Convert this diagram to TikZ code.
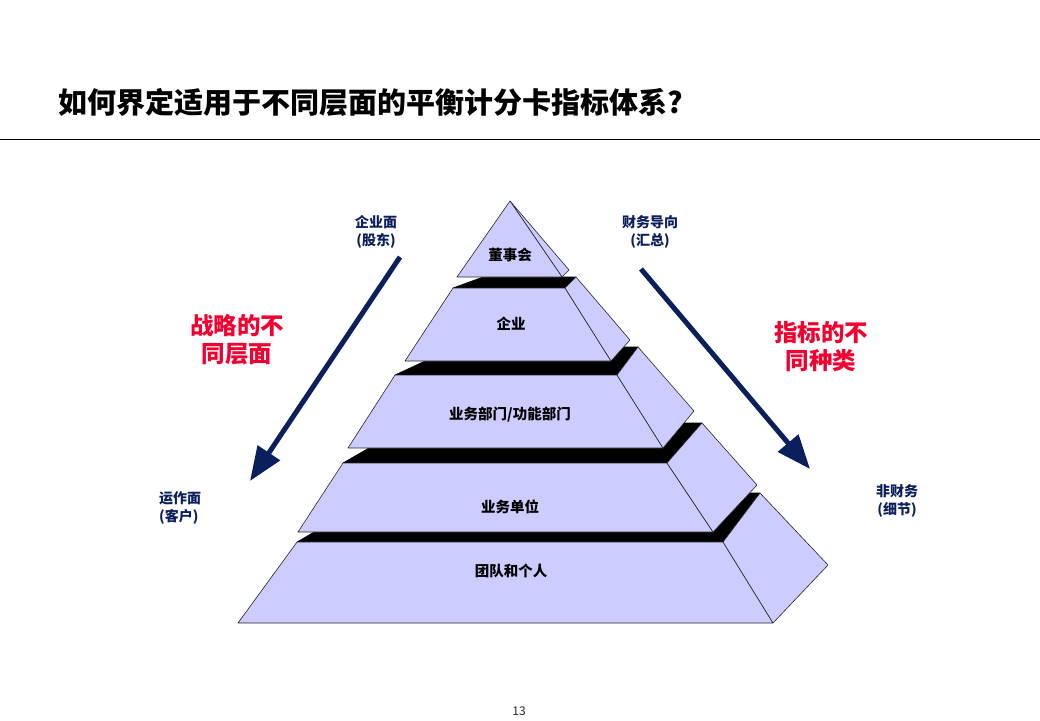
\documentclass[tikz,border=0pt]{standalone}
\usepackage{fontspec}
\setmainfont{Noto Sans CJK SC}
\usetikzlibrary{arrows.meta}
\definecolor{face}{HTML}{CCCCFF}
\definecolor{navy}{HTML}{0B1F5C}
\definecolor{redt}{HTML}{F20030}
\tikzset{
 faceS/.style={fill=face, draw=black!85, line width=0.6pt, line join=round},
 topS/.style={fill=black, draw=black, line width=0.6pt, line join=round},
 tierlabel/.style={font=\fontsize{14.5}{16}\selectfont\bfseries, text=black, inner sep=0pt},
 navylabel/.style={font=\fontsize{14}{18}\selectfont\bfseries, text=navy, align=center, inner sep=0pt},
 redlabel/.style={font=\fontsize{23.5}{28}\selectfont\bfseries, text=redt, align=center, inner sep=0pt},
 bigarrow/.style={draw=navy, line width=5pt, -{Triangle[length=34pt,width=26pt]}}
}
\begin{document}
\begin{tikzpicture}[x=1pt,y=-1pt]
\fill[white] (0,0) rectangle (1040,720);
\useasboundingbox (0,0) rectangle (1040,720);
% title
\node[anchor=base west, inner sep=0pt, font=\fontsize{29}{32}\selectfont\bfseries] (title) at (58,113) {如何界定适用于不同层面的平衡计分卡指标体系?};
\draw[line width=1pt] (0,139) -- (1040,139);
% tier 5
\fill[topS] (297,542) -- (381,493) -- (760,493) -- (723,542) -- cycle;
\filldraw[faceS] (297,542) -- (723,542) -- (773,623) -- (238,623) -- cycle;
\filldraw[faceS] (723,542) -- (760,493) -- (828,565) -- (773,623) -- cycle;
% tier 4
\fill[topS] (343,463) -- (412,423) -- (702,423) -- (667,463) -- cycle;
\filldraw[faceS] (343,463) -- (667,463) -- (713,532) -- (298,532) -- cycle;
\filldraw[faceS] (667,463) -- (702,423) -- (757,485) -- (713,532) -- cycle;
% tier 3
\fill[topS] (395,375) -- (455,347) -- (638,347) -- (617,375) -- cycle;
\filldraw[faceS] (395,375) -- (617,375) -- (663,448) -- (348,448) -- cycle;
\filldraw[faceS] (617,375) -- (638,347) -- (694,411) -- (663,448) -- cycle;
% tier 2
\fill[topS] (453,288) -- (483,277) -- (576,277) -- (565,288) -- cycle;
\filldraw[faceS] (453,288) -- (565,288) -- (611,361) -- (405,361) -- cycle;
\filldraw[faceS] (565,288) -- (576,277) -- (630,340) -- (611,361) -- cycle;
% tier 1
\filldraw[faceS] (510,201) -- (569,270) -- (562,277) -- cycle;
\filldraw[faceS] (510,201) -- (562,277) -- (457,277) -- cycle;
% tier labels
\node[tierlabel] (t1) at (510,255) {董事会};
\node[tierlabel] (t2) at (511,324) {企业};
\node[tierlabel] (t3) at (510,415) {业务部门/功能部门};
\node[tierlabel] (t4) at (510,507) {业务单位};
\node[tierlabel] (t5) at (511,571) {团队和个人};
% side labels
\node[navylabel] (qym) at (376,232) {企业面\\(股东)};
\node[navylabel] (cwdx) at (650,232) {财务导向\\(汇总)};
\node[navylabel, align=left, anchor=west] (yzm) at (159,508) {运作面\\(客户)};
\node[navylabel] (fcw) at (897,501) {非财务\\(细节)};
\node[redlabel] (zl) at (237,340) {战略的不\\同层面};
\node[redlabel] (zb) at (821,347) {指标的不\\同种类};
% arrows
\coordinate (ls) at (400,257);
\coordinate (lt) at (250,481);
\coordinate (rs) at (641,269);
\coordinate (rt) at (810,469);
\draw[bigarrow] (ls) -- (lt);
\draw[bigarrow] (rs) -- (rt);
% page number
\node[font=\fontsize{12}{14}\selectfont, text=black!85] (pg) at (519,711) {13};
\end{tikzpicture}
\end{document}
